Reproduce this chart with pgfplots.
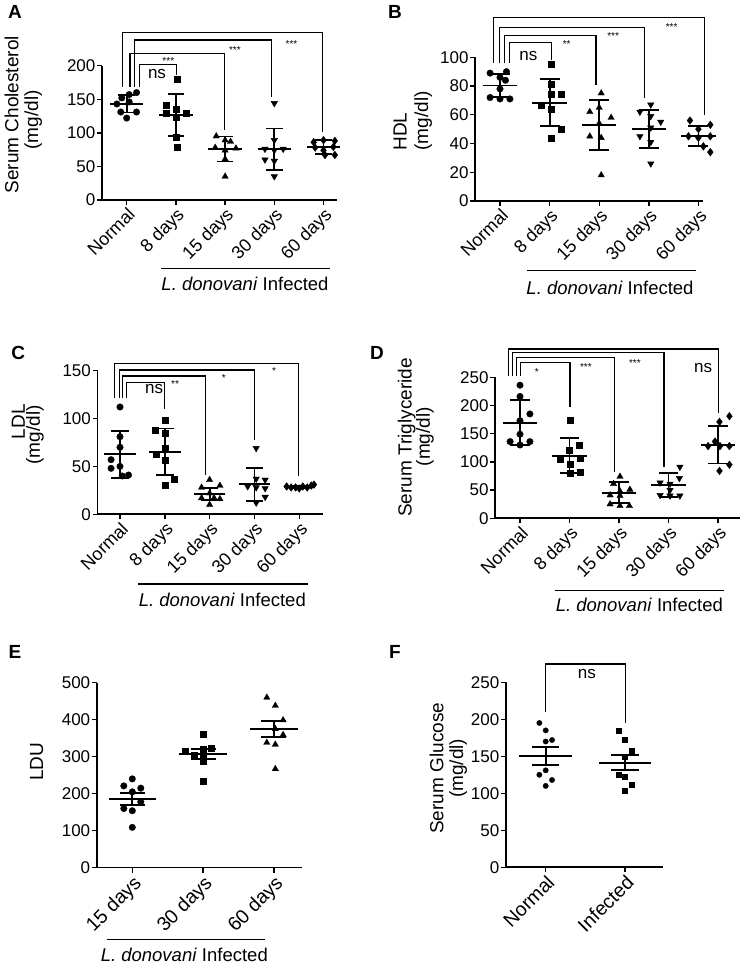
\documentclass[border=0pt]{standalone}
\usepackage{pgfplots}
\pgfplotsset{compat=1.18}
\usepackage{fontspec}
\setmainfont{Liberation Sans}
\newcommand{\tl}{\fontsize{17}{17}\selectfont}
\newcommand{\xl}{\fontsize{18}{18}\selectfont}
\newcommand{\xL}{\fontsize{19.5}{19.5}\selectfont}
\newcommand{\il}{\fontsize{18.5}{18.5}\selectfont}
\newcommand{\al}{\fontsize{19}{19}\selectfont}
\newcommand{\st}{\fontsize{10}{10}\selectfont}
\newcommand{\pl}{\fontsize{19}{19}\selectfont\bfseries}
\tikzset{br/.style={line width=1.2pt}}
\begin{document}
\begin{tikzpicture}[x=1pt,y=1pt]
\useasboundingbox (0,0) rectangle (747,968);
\pgfplotsset{
 base/.style={
   axis lines=left, axis line style={-, line width=1.6pt, black},
   xmin=-0.5, ymin=0, clip=false,
   tick align=outside, major tick length=5pt,
   tick style={black, line width=1.4pt},
   ticklabel style={font=\tl},
   /pgf/number format/assume math mode=true,
   yticklabel style={inner sep=1.5pt},
   xticklabel style={rotate=45, anchor=north east, inner sep=1pt, font=\xl},
   xtick={0,1,2,3,4},
   xticklabels={Normal,8 days,15 days,30 days,60 days},
   anchor=south west,
 },
 dots/.style={only marks, black, mark options={fill=black, draw=black, line width=0.3pt}},
 ms/.style 2 args={only marks, black, mark=-, mark size=#1, mark options={line width=1.8pt},
   error bars/.cd, y dir=both, y explicit, error bar style={line width=1.8pt},
   error mark options={rotate=90, line width=1.8pt, mark size=#2}},
 circ/.style={dots, mark=*, mark size=3.3pt},
 sq/.style={dots, mark=square*, mark size=3pt},
 tri/.style={dots, mark=triangle*, mark size=3.7pt},
 itri/.style={dots, mark=triangle*, mark size=3.7pt, mark options={rotate=180, fill=black}},
 dia/.style={dots, mark=diamond*, mark size=3.9pt},
}
% ---------------- A
\begin{axis}[base, at={(102.1pt,768pt)}, x=49.2pt, y=0.6715pt, xmax=4.27, ymax=200, ytick={0,50,...,200}]
\addplot[circ] coordinates {(0.2,160) (0.05,157) (-0.1,152) (-0.2,143) (0.05,146) (-0.12,131) (0.2,131) (0,122)};
\addplot[sq] coordinates {(1.02,180) (0.81,141) (1.0,136) (0.81,130) (1.2,129) (1.0,123) (1.0,93) (1.02,78)};
\addplot[tri] coordinates {(1.82,95) (2.0,89) (2.11,87) (1.8,78) (2.22,77) (2.0,74) (2.0,61) (2.0,35)};
\addplot[itri] coordinates {(3.0,144) (3.0,89) (2.81,76) (3.0,74) (3.18,76) (2.81,60) (3.0,58) (3.0,35)};
\addplot[dia] coordinates {(3.8,86) (4.0,89) (4.23,88) (3.83,78) (4.2,79) (4.0,74) (4.03,67) (4.23,67)};
\addplot[ms={16.7pt}{8.3pt}] coordinates {(0,143.5) +- (0,13.2) (1,126.6) +- (0,31.2) (2,76) +- (0,18.6) (3,75.5) +- (0,31) (4,78.4) +- (0,10.5)};
\draw[br] (axis cs:-0.081,168.7) |- (axis cs:3.98,249.8) -- (axis cs:3.98,101.7);
\draw[br] (axis cs:0.067,168.7) |- (axis cs:1.98,218.5) -- (axis cs:1.98,104.2);
\draw[br] (axis cs:0.154,168.7) |- (axis cs:2.95,238.3) -- (axis cs:2.95,153);
\draw[br] (axis cs:0.256,168.7) |- (axis cs:1.016,202.1) -- (axis cs:1.016,186);
\node[font=\tl] at (axis cs:0.616,187.6) {ns};
\node[font=\st, yshift=-2pt] at (axis cs:0.846,209.5) {***};
\node[font=\st, yshift=-2pt] at (axis cs:2.2,225.9) {***};
\node[font=\st, yshift=-2pt] at (axis cs:3.35,235.7) {***};
\end{axis}
% ---------------- B
\begin{axis}[base, at={(475.2pt,767pt)}, x=49.6pt, y=1.437pt, xmax=4.1, ymax=100, ytick={0,20,...,100}]
\addplot[circ] coordinates {(-0.2,89) (0.13,90) (0,86) (0.11,84) (0,78) (-0.2,72) (0,71) (0.2,71)};
\addplot[sq] coordinates {(1.03,95) (1.03,81) (1.23,74) (1.03,74) (0.83,67) (1.03,64) (1.23,50) (1.03,44)};
\addplot[tri] coordinates {(2.04,75) (2.0,65) (1.81,62) (2.24,58) (2.0,54) (1.81,45) (2.04,44) (2.04,18)};
\addplot[itri] coordinates {(3.04,67) (2.82,62) (3.04,59) (3.24,55) (3.04,51) (2.82,45) (3.04,41) (3.04,26)};
\addplot[dia] coordinates {(3.83,56) (4.24,53) (4.0,50) (3.8,45) (4.0,44) (4.24,45) (4.1,38) (4.24,34)};
\addplot[ms={17.2pt}{10pt}] coordinates {(0,80.3) +- (0,8.1) (1,68.4) +- (0,16.25) (2,52.9) +- (0,17.15) (3,50.1) +- (0,13) (4,45.2) +- (0,7)};
\draw[br] (axis cs:-0.135,95.8) |- (axis cs:4.12,127.8) -- (axis cs:4.12,59.8);
\draw[br] (axis cs:-0.014,95.8) |- (axis cs:2.92,120.9) -- (axis cs:2.92,71.5);
\draw[br] (axis cs:0.087,95.8) |- (axis cs:1.935,115) -- (axis cs:1.935,80.7);
\draw[br] (axis cs:0.188,95.8) |- (axis cs:1.04,110.4) -- (axis cs:1.04,98.3);
\node[font=\tl] at (axis cs:0.57,100.9) {ns};
\node[font=\st, yshift=-2pt] at (axis cs:1.345,110.9) {**};
\node[font=\st, yshift=-2pt] at (axis cs:2.28,116) {***};
\node[font=\st, yshift=-2pt] at (axis cs:3.46,122.5) {***};
\end{axis}
% ---------------- C
\begin{axis}[base, at={(97.6pt,453.7pt)}, x=44.8pt, y=0.958pt, xmax=4.53, ymax=150, ytick={0,50,100,150}]
\addplot[circ] coordinates {(0,112) (0,81) (0,70) (-0.2,57) (-0.2,48) (0,50) (0.19,41) (0.05,40)};
\addplot[sq] coordinates {(1.0,98) (0.78,88) (1.0,85) (1.0,69) (0.8,63) (1.0,56) (1.21,37) (1.0,30)};
\addplot[tri] coordinates {(2.0,36) (1.82,28) (2.23,30) (2.0,22) (1.82,17) (2.1,17) (2.23,16) (2.0,10)};
\addplot[itri] coordinates {(3.04,69) (3.04,37) (3.24,36) (2.85,29) (3.04,28) (3.24,27) (3.24,18) (3.04,12)};
\addplot[dia] coordinates {(3.72,29) (3.82,28) (3.92,28) (4.0,27) (4.08,29) (4.18,28) (4.27,30) (4.33,31)};
\addplot[ms={15.7pt}{8.7pt}] coordinates {(0,62.6) +- (0,24.7) (1,65.4) +- (0,24.2) (2,21.2) +- (0,6.6) (3,31.3) +- (0,17.3) (4,28.8) +- (0,1.3)};
\draw[br] (axis cs:-0.127,121) |- (axis cs:3.99,157) -- (axis cs:3.99,40);
\draw[br] (axis cs:-0.016,121) |- (axis cs:3.0,150.7) -- (axis cs:3.0,77.6);
\draw[br] (axis cs:0.06,121) |- (axis cs:1.9,144.4) -- (axis cs:1.9,41);
\draw[br] (axis cs:0.15,121) |- (axis cs:0.99,137.8) -- (axis cs:0.99,109.6);
\node[font=\tl] at (axis cs:0.76,130.8) {ns};
\node[font=\st, yshift=-2pt] at (axis cs:1.23,138.4) {**};
\node[font=\st, yshift=-2pt] at (axis cs:2.32,144.4) {*};
\node[font=\st, yshift=-2pt] at (axis cs:3.44,151.4) {*};
\end{axis}
% ---------------- D
\begin{axis}[base, at={(495.25pt,449.7pt)}, x=49.5pt, y=0.564pt, xmax=4.44, ymax=250, ytick={0,50,...,250}]
\addplot[circ] coordinates {(0,236) (0,216) (0.2,185) (0,173) (0,149) (-0.2,136) (0,130) (0.2,136)};
\addplot[sq] coordinates {(1.01,174) (1.2,129) (1.0,120) (0.81,104) (1.21,107) (1.01,96) (1.01,80) (1.21,81)};
\addplot[tri] coordinates {(2.02,74) (1.89,61) (2.22,51) (2.02,48) (1.82,41) (2.02,40) (1.82,25) (2.02,22) (2.21,22)};
\addplot[itri] coordinates {(3.23,91) (2.83,63) (3.22,71) (3.03,61) (2.83,41) (3.03,40) (3.23,40) (3.03,50)};
\addplot[dia] coordinates {(4.23,181) (4.03,171) (3.94,136) (3.8,128) (4.04,128) (4.23,128) (4.23,95) (4.03,84)};
\addplot[ms={17.3pt}{9.7pt}] coordinates {(0,169.6) +- (0,39.85) (1,111) +- (0,31) (2,45.4) +- (0,18.6) (3,59) +- (0,21.25) (4,130) +- (0,33)};
\draw[br] (axis cs:-0.236,252) |- (axis cs:4.01,300.2) -- (axis cs:4.01,187.3);
\draw[br] (axis cs:-0.156,252) |- (axis cs:2.91,294.3) -- (axis cs:2.91,91.5);
\draw[br] (axis cs:-0.067,252) |- (axis cs:1.91,284.8) -- (axis cs:1.91,82.6);
\draw[br] (axis cs:0.014,252) |- (axis cs:1.01,276.6) -- (axis cs:1.01,197.9);
\node[font=\st, yshift=-2pt] at (axis cs:0.34,263) {*};
\node[font=\st, yshift=-2pt] at (axis cs:1.33,272) {***};
\node[font=\st, yshift=-2pt] at (axis cs:2.32,279.4) {***};
\node[font=\tl] at (axis cs:3.7,266) {ns};
\end{axis}
% ---------------- E
\begin{axis}[base, at={(96.9pt,100.3pt)}, x=70.8pt, y=0.37pt, xmax=2.39, ymax=500, ytick={0,100,...,500},
  xtick={0,1,2}, xticklabels={15 days,30 days,60 days}, xticklabel style={font=\xL}]
\addplot[circ] coordinates {(0,240) (-0.12,221) (0.12,215) (0,205) (0.12,178) (-0.12,160) (0,154) (0,109)};
\addplot[sq] coordinates {(1.0,360) (0.75,316) (1.12,324) (1.0,320) (0.88,305) (1.0,297) (1.0,287) (1.0,234)};
\addplot[tri] coordinates {(1.9,460) (2.02,438) (2.13,399) (2.02,375) (2.13,359) (1.9,338) (2.02,333) (2.02,267)};
\addplot[ms={23.8pt}{12.5pt}] coordinates {(0,185.7) +- (0,15.25) (1,307.3) +- (0,13.05) (2,374) +- (0,21.65)};
\end{axis}
% ---------------- F
\begin{axis}[base, at={(506.05pt,100.7pt)}, x=79.3pt, y=0.74pt, xmax=1.48, ymax=250, ytick={0,50,...,250},
  xtick={0,1}, xticklabels={Normal,Infected}, xticklabel style={font=\xL}]
\addplot[circ, mark size=2.7pt] coordinates {(-0.08,195) (0,185) (0.08,172) (0,170) (0,131) (-0.08,125) (0.08,118) (0,110)};
\addplot[sq, mark size=2.5pt] coordinates {(0.92,185) (1.0,173) (1.08,158) (1.0,150) (0.92,125) (1.0,122) (1.08,112) (1.0,104)};
\addplot[ms={26.3pt}{13.7pt}] coordinates {(0,150.4) +- (0,11.95) (1,141.4) +- (0,10.4)};
\draw[br] (axis cs:0,210.3) |- (axis cs:1.01,274.7) -- (axis cs:1.01,194.6);
\node[font=\tl] at (axis cs:0.52,260.8) {ns};
\end{axis}
% ---------------- labels
\node[font=\pl] at (15,956.3) {A};
\node[font=\pl] at (395,956.3) {B};
\node[font=\pl] at (18.3,614.7) {C};
\node[font=\pl] at (377,614.7) {D};
\node[font=\pl] at (15,316.3) {E};
\node[font=\pl] at (395,316.3) {F};
\node[font=\al, rotate=90] at (11.7,853.3) {Serum Cholesterol};
\node[font=\al, rotate=90] at (33.3,848) {(mg/dl)};
\node[font=\al, rotate=90] at (400,836.3) {HDL};
\node[font=\al, rotate=90] at (423.3,847.2) {(mg/dl)};
\node[font=\al, rotate=90] at (18.3,546.3) {LDL};
\node[font=\al, rotate=90] at (35,533) {(mg/dl)};
\node[font=\al, rotate=90] at (406.7,530.5) {Serum Triglyceride};
\node[font=\al, rotate=90] at (425,531.3) {(mg/dl)};
\node[font=\al, rotate=90] at (36.7,206.3) {LDU};
\node[font=\al, rotate=90] at (436.7,199.7) {Serum Glucose};
\node[font=\al, rotate=90] at (458.3,199.7) {(mg/dl)};
\draw[line width=1.5pt] (161,699.7) -- (330,699.7);
\node[font=\il] at (245,684.5) {\textit{L. donovani} Infected};
\draw[line width=1.5pt] (526.7,697.3) -- (696,697.3);
\node[font=\il] at (610,680) {\textit{L. donovani} Infected};
\draw[line width=1.5pt] (138.3,384) -- (308.3,384);
\node[font=\il] at (222.3,368.5) {\textit{L. donovani} Infected};
\draw[line width=1.5pt] (555,377.3) -- (724.3,377.3);
\node[font=\il] at (639.3,363.5) {\textit{L. donovani} Infected};
\draw[line width=1.5pt] (106.7,28.7) -- (265,28.7);
\node[font=\il] at (184.3,13.5) {\textit{L. donovani} Infected};
\end{tikzpicture}
\end{document}
